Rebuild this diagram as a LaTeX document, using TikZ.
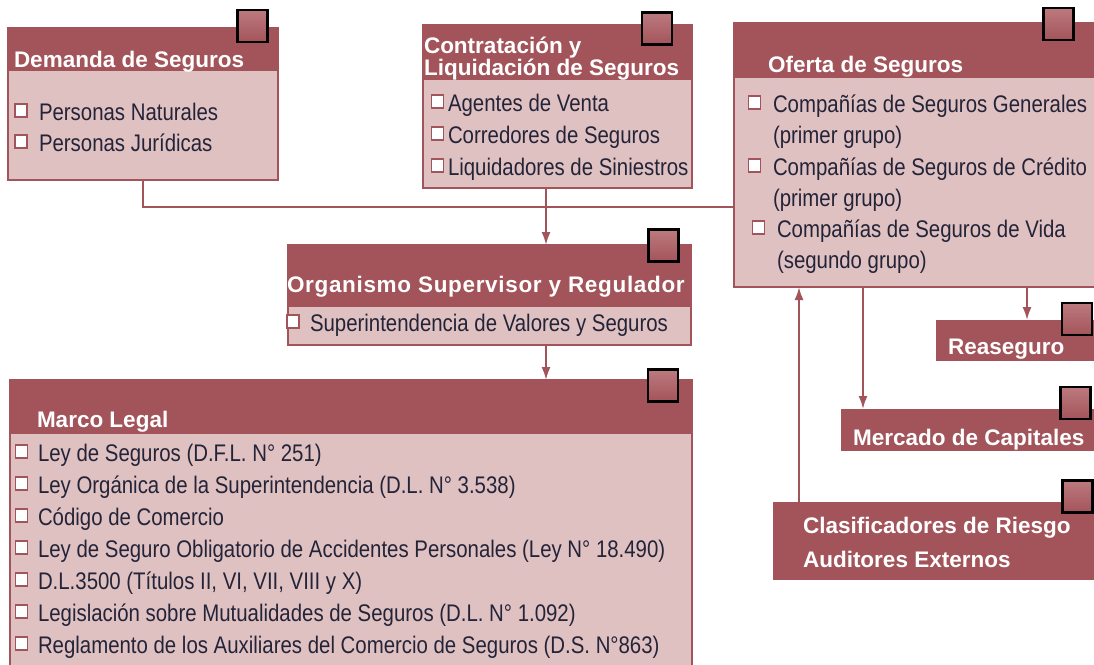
\documentclass[tikz,border=0pt]{standalone}
\usepackage{fontspec}
\setmainfont{Liberation Sans}
\newfontfamily\itemfont[FakeStretch=0.85]{Liberation Sans}
\usetikzlibrary{arrows.meta}
\definecolor{hdred}{RGB}{163,84,90}
\definecolor{bdpink}{RGB}{223,193,194}
\definecolor{icontop}{RGB}{188,122,127}
\definecolor{txtblue}{RGB}{36,36,56}

\begin{document}
\begin{tikzpicture}[x=1pt,y=-1pt]
\tikzstyle{every node}+=[inner sep=0pt, outer sep=0pt]
\tikzstyle{panelbox}=[draw=hdred, line width=2pt, fill=bdpink, anchor=north west]
\tikzstyle{headbar}=[fill=hdred, anchor=north west]
\tikzstyle{cornericon}=[draw=black, line width=2.5pt, top color=icontop, bottom color=hdred, minimum width=30pt, minimum height=32pt]
\tikzstyle{boxtitle}=[text=white, font=\fontsize{22.5}{24}\selectfont\bfseries, anchor=base west]
\tikzstyle{listitem}=[text=txtblue, font=\itemfont\fontsize{24}{28}\selectfont, anchor=base west]
\tikzstyle{chk}=[draw=hdred, line width=1.6pt, fill=white, minimum width=12pt, minimum height=13pt]
\tikzstyle{link}=[draw=hdred, line width=2pt]
\tikzstyle{linkarrow}=[link, -{Latex[length=13pt,width=9pt]}]
\useasboundingbox [fill=white] (0,0) rectangle (1094,664);

\node [panelbox, minimum width=270pt, minimum height=152pt] (demanda) at (8,28) {};
\node [headbar, minimum width=270pt, minimum height=43pt] (demandahead) at (demanda.north west) {};
\node [cornericon] (demandaicon) at (252.5,26) {};
\node [boxtitle] (demandatitle) at (14,67) {Demanda de Seguros};
\foreach \txt [count=\i] in {Personas Naturales, Personas Jurídicas} {
  \node [listitem] (dem\i) at (39,{89+31*\i}) {\txt};
  \node [chk, xshift=-18pt, yshift=9.5pt] (dembox\i) at (dem\i.base west) {};
}

\node [panelbox, minimum width=269pt, minimum height=163pt] (contrata) at (423,25) {};
\node [headbar, minimum width=269pt, minimum height=55pt] (contratahead) at (contrata.north west) {};
\node [cornericon] (contrataicon) at (657,28.5) {};
\node [boxtitle] (contratatitle1) at (424,53) {Contratación y};
\node [boxtitle] (contratatitle2) at (424,75) {Liquidación de Seguros};
\foreach \txt [count=\i] in {Agentes de Venta, Corredores de Seguros, Liquidadores de Siniestros} {
  \node [listitem] (con\i) at (448,{79+32*\i}) {\txt};
  \node [chk, xshift=-10.5pt, yshift=9.5pt] (conbox\i) at (con\i.base west) {};
}

\node [panelbox, minimum width=362pt, minimum height=264pt] (oferta) at (734,23) {};
\node [headbar, minimum width=362pt, minimum height=55pt] (ofertahead) at (oferta.north west) {};
\node [cornericon] (ofertaicon) at (1058.5,24) {};
\node [boxtitle] (ofertatitle) at (768,72) {Oferta de Seguros};
\foreach \main/\sub/\y/\dx [count=\i] in {Compañías de Seguros Generales/(primer grupo)/112/0, Compañías de Seguros de Crédito/(primer grupo)/175/0, Compañías de Seguros de Vida/(segundo grupo)/237/4} {
  \node [listitem] (of\i) at ({773+\dx},\y) {\main};
  \node [listitem] (ofsub\i) at ({773+\dx},{\y+31}) {\sub};
  \node [chk, xshift=-18.5pt, yshift=9.5pt] (ofbox\i) at (of\i.base west) {};
}

\node [panelbox, minimum width=403pt, minimum height=100pt] (organismo) at (288,245) {};
\node [headbar, minimum width=403pt, minimum height=62pt] (organismohead) at (organismo.north west) {};
\node [cornericon] (organismoicon) at (663.5,245.5) {};
\node [boxtitle, font=\fontsize{22.5}{24}\selectfont\bfseries\addfontfeatures{LetterSpace=3}] (organismotitle) at (287,292) {Organismo Supervisor y Regulador};
\node [listitem] (org1) at (310,331) {Superintendencia de Valores y Seguros};
\node [chk, xshift=-17pt, yshift=9.5pt] (orgbox1) at (org1.base west) {};

\node [panelbox, minimum width=682pt, minimum height=287pt] (marco) at (10,380) {};
\node [headbar, minimum width=682pt, minimum height=54pt] (marcohead) at (marco.north west) {};
\node [cornericon] (marcoicon) at (663,385.5) {};
\node [boxtitle] (marcotitle) at (37,427) {Marco Legal};
\foreach \txt [count=\i] in {Ley de Seguros (D.F.L. N° 251), Ley Orgánica de la Superintendencia (D.L. N° 3.538), Código de Comercio, Ley de Seguro Obligatorio de Accidentes Personales (Ley N° 18.490), {D.L.3500 (Títulos II, VI, VII, VIII  y X)}, Legislación sobre Mutualidades de Seguros (D.L. N° 1.092), Reglamento de los Auxiliares del Comercio de Seguros (D.S. N°863)} {
  \node [listitem] (mar\i) at (38,{429+32*\i}) {\txt};
  \node [chk, xshift=-16.5pt, yshift=9.5pt] (marbox\i) at (mar\i.base west) {};
}

\node [headbar, minimum width=160pt, minimum height=41pt] (reaseguro) at (936,320) {};
\node [cornericon] (reaseguroicon) at (1077,319) {};
\node [boxtitle] (reasegurotitle) at (948,354) {Reaseguro};

\node [headbar, minimum width=255pt, minimum height=42pt] (mercado) at (841,409) {};
\node [cornericon] (mercadoicon) at (1075.5,403) {};
\node [boxtitle] (mercadotitle) at (853,445) {Mercado de Capitales};

\node [headbar, minimum width=323pt, minimum height=78pt] (clasif) at (773,502) {};
\node [cornericon] (clasificon) at (1077.5,496.5) {};
\node [boxtitle] (clasiftitle1) at (803,533) {Clasificadores de Riesgo};
\node [boxtitle] (clasiftitle2) at (803,567) {Auditores Externos};

\coordinate (junction) at (546,207);
\coordinate (reax) at (1027,300);
\coordinate (merx) at (863,300);
\coordinate (clax) at (799,300);
\draw [link] (demanda.south) |- (oferta.west |- junction);
\draw [linkarrow] (contrata.south -| junction) -- (organismo.north -| junction);
\draw [linkarrow] (organismo.south -| junction) -- (marco.north -| junction);
\draw [linkarrow] (oferta.south -| reax) -- (reaseguro.north -| reax);
\draw [linkarrow] (oferta.south -| merx) -- (mercado.north -| merx);
\draw [linkarrow] (clasif.north -| clax) -- (oferta.south -| clax);
\end{tikzpicture}
\end{document}
